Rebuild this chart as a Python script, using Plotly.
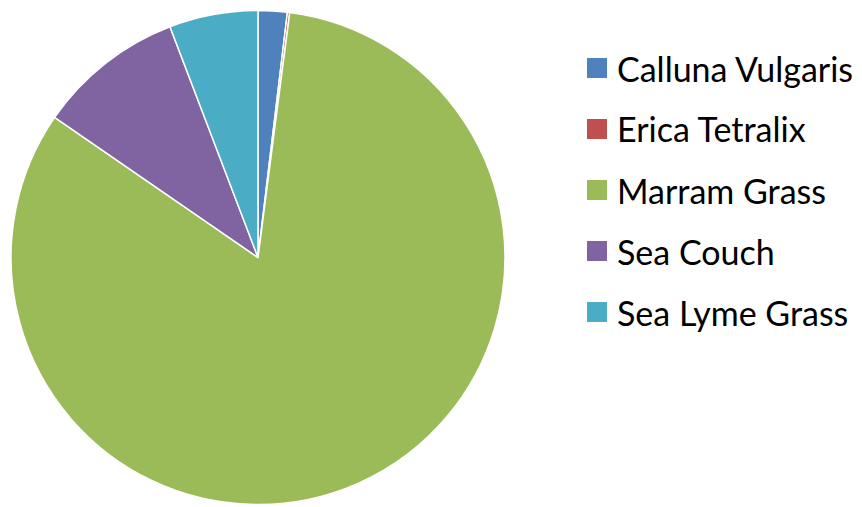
import plotly.graph_objects as go

# Plant cover shares by species
species = ["Calluna Vulgaris", "Erica Tetralix", "Marram Grass", "Sea Couch", "Sea Lyme Grass"]
cover = [1.9, 0.15, 82.55, 9.6, 5.8]
colors = ["#4F81BD", "#C0504D", "#9BBB59", "#8064A2", "#4BACC6"]

W, H = 862, 507

fig = go.Figure()
fig.add_trace(go.Pie(
    labels=species,
    values=cover,
    sort=False,
    direction="clockwise",
    rotation=0,
    textinfo="none",
    hoverinfo="label+percent",
    marker=dict(colors=colors, line=dict(color="white", width=1.5)),
    domain=dict(x=[11 / W, 505 / W], y=[1 - 506 / H, 1 - 9 / H]),
    showlegend=False,
))

# Legend drawn as square swatches with labels
row0, step = 68, 61
shapes, annotations = [], []
for i, (name, col) in enumerate(zip(species, colors)):
    yc = row0 + i * step
    shapes.append(dict(
        type="rect", xref="paper", yref="paper",
        x0=587 / W, x1=607 / W,
        y0=1 - (yc + 10) / H, y1=1 - (yc - 10) / H,
        fillcolor=col, line=dict(width=0),
    ))
    annotations.append(dict(
        text=name, xref="paper", yref="paper",
        x=615 / W, y=1 - yc / H, xanchor="left", yanchor="middle",
        showarrow=False, font=dict(family="Lato", size=34, color="#000000"),
    ))

fig.update_layout(
    width=W, height=H,
    margin=dict(l=0, r=0, t=0, b=0),
    paper_bgcolor="white",
    plot_bgcolor="white",
    shapes=shapes,
    annotations=annotations,
)

fig.write_html("out.html")
